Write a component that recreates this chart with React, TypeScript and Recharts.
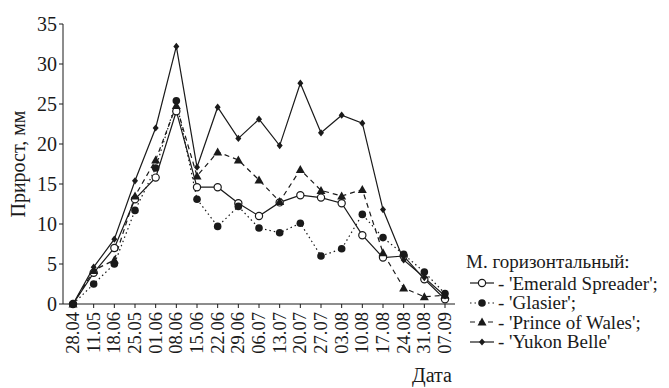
import { LineChart, Line, XAxis, YAxis } from 'recharts';

const dates = ['28.04', '11.05', '18.06', '25.05', '01.06', '08.06', '15.06', '22.06', '29.06', '06.07', '13.07', '20.07', '27.07', '03.08', '10.08', '17.08', '24.08', '31.08', '07.09'];
const emerald = [0, 3.9, 7.0, 13.1, 15.8, 24.1, 14.6, 14.6, 12.6, 11.0, 12.7, 13.6, 13.3, 12.6, 8.6, 5.8, 6.0, 3.1, 0.6];
const glasier = [0, 2.5, 5.0, 11.7, 17.0, 25.4, 13.1, 9.7, 12.2, 9.5, 8.9, 10.1, 6.0, 6.9, 11.2, 8.3, 6.2, 4.0, 1.3];
const prince = [0, 4.2, 5.5, 13.5, 18.0, 24.8, 16.0, 19.0, 18.0, 15.5, 12.8, 16.8, 14.2, 13.5, 14.3, 6.4, 2.0, 0.9, 1.1];
const yukon = [0, 4.6, 8.1, 15.4, 22.0, 32.2, 17.1, 24.6, 20.7, 23.1, 19.8, 27.6, 21.4, 23.6, 22.6, 11.8, 5.5, 3.3, 1.0];
const yTicks = [0, 5, 10, 15, 20, 25, 30, 35];

const legendTitle = 'М. горизонтальный:';
const legendNames = ["- 'Emerald Spreader';", "- 'Glasier';", "- 'Prince of Wales';", "- 'Yukon Belle'"];

const data = dates.map((d, i) => ({
    date: d,
    emerald: emerald[i],
    glasier: glasier[i],
    prince: prince[i],
    yukon: yukon[i],
}));

const INK = '#1a1a1a';
const FONT = '"Liberation Serif", "DejaVu Serif", serif';

type Mark = 'open' | 'filled' | 'triangle' | 'diamond';

function marker(kind: Mark, cx: number, cy: number, key?: string | number) {
    if (kind === 'open') {
        return <circle key={key} cx={cx} cy={cy} r={3.6} fill="#fff" stroke={INK} strokeWidth={1.2} />;
    }
    if (kind === 'filled') {
        return <circle key={key} cx={cx} cy={cy} r={3.8} fill={INK} />;
    }
    if (kind === 'triangle') {
        return (
            <path
                key={key}
                d={`M${cx},${cy - 4.5} L${cx + 4.5},${cy + 3.5} L${cx - 4.5},${cy + 3.5} Z`}
                fill={INK}
            />
        );
    }
    return (
        <path
            key={key}
            d={`M${cx},${cy - 3.6} L${cx + 3},${cy} L${cx},${cy + 3.6} L${cx - 3},${cy} Z`}
            fill={INK}
        />
    );
}

const dotOf = (kind: Mark) => (p: any) => marker(kind, p.cx, p.cy, `${kind}-${p.index}`);

const series = [
    { key: 'emerald', mark: 'open' as Mark, dash: undefined },
    { key: 'glasier', mark: 'filled' as Mark, dash: '1.5 3' },
    { key: 'prince', mark: 'triangle' as Mark, dash: '5 4' },
    { key: 'yukon', mark: 'diamond' as Mark, dash: undefined },
];

function XTick(props: any) {
    const { x, y, payload } = props;
    return (
        <text
            x={x}
            y={y}
            transform={`rotate(-90, ${x}, ${y})`}
            textAnchor="end"
            dominantBaseline="central"
            style={{ fontSize: 18.5, fontFamily: FONT }}
            fill={INK}
        >
            {payload.value}
        </text>
    );
}

function YTick(props: any) {
    const { x, y, payload } = props;
    return (
        <text
            x={x}
            y={y}
            textAnchor="end"
            dominantBaseline="central"
            style={{ fontSize: 20, fontFamily: FONT }}
            fill={INK}
        >
            {payload.value}
        </text>
    );
}

function LegendBox() {
    return (
        <div
            style={{
                position: 'absolute',
                left: 466,
                top: 252,
                fontFamily: FONT,
                fontSize: 19,
                color: INK,
                lineHeight: '19.5px',
            }}
        >
            <div style={{ marginBottom: 2 }}>{legendTitle}</div>
            {series.map((s, i) => (
                <div key={s.key} style={{ display: 'flex', alignItems: 'center', height: 19.5 }}>
                    <svg width={30} height={12} style={{ marginRight: 2 }}>
                        <line x1={4} y1={6} x2={28} y2={6} stroke={INK} strokeWidth={1.2} strokeDasharray={s.dash} />
                        {marker(s.mark, 16, 6)}
                    </svg>
                    <span style={{ whiteSpace: 'nowrap' }}>{legendNames[i]}</span>
                </div>
            ))}
        </div>
    );
}

export default function App() {
    return (
        <div style={{ position: 'fixed', left: 0, top: 0, width: 669, height: 388, background: '#fff' }}>
            <LineChart width={669} height={388} data={data} margin={{ top: 24, right: 214, bottom: 34, left: 20 }}>
                <XAxis
                    dataKey="date"
                    height={50}
                    interval={0}
                    padding={{ left: 10, right: 10 }}
                    stroke={INK}
                    tickSize={4}
                    tickMargin={4}
                    tick={<XTick />}
                />
                <YAxis
                    width={43}
                    domain={[0, 35]}
                    ticks={yTicks}
                    interval={0}
                    stroke={INK}
                    tickSize={4}
                    tick={<YTick />}
                />
                {series.map((s) => (
                    <Line
                        key={s.key}
                        dataKey={s.key}
                        type="linear"
                        stroke={INK}
                        strokeWidth={1.2}
                        strokeDasharray={s.dash}
                        dot={dotOf(s.mark)}
                        activeDot={false}
                        isAnimationActive={false}
                    />
                ))}
            </LineChart>
            <LegendBox />
            <div
                style={{
                    position: 'absolute',
                    left: 18,
                    top: 164,
                    transform: 'translate(-50%, -50%) rotate(-90deg)',
                    whiteSpace: 'nowrap',
                    lineHeight: 1,
                    fontFamily: FONT,
                    fontSize: 20,
                    color: INK,
                }}
            >
                Прирост, мм
            </div>
            <div
                style={{
                    position: 'absolute',
                    left: 412,
                    top: 365,
                    lineHeight: 1,
                    fontFamily: FONT,
                    fontSize: 20,
                    color: INK,
                }}
            >
                Дата
            </div>
        </div>
    );
}
